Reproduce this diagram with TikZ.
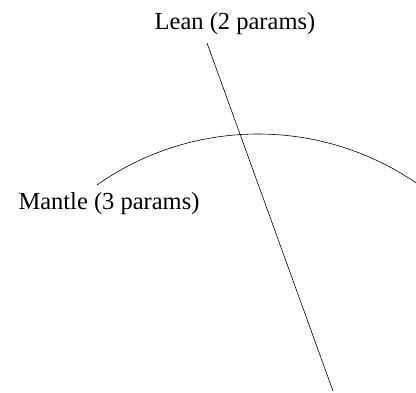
\documentclass[tikz,border=0pt]{standalone}
\usepackage{fontspec}
\setmainfont{Liberation Serif}
\usepackage{tikz}
\usetikzlibrary{positioning, calc}

\begin{document}
\begin{tikzpicture}[x=1pt, y=1pt, font=\fontsize{24.5}{29}\selectfont, line width=0.6pt]

	\useasboundingbox (0,0) rectangle (416,393);

	% Manteau (arc de cercle)
	\coordinate (centre) at (258,-21);
	\draw ($(centre)+(125.1:280)$) arc[start angle=125.1, end angle=55.2, radius=280];

	% Inclinaison
	\coordinate (haut) at (207,350);
	\coordinate (bas) at (333,2);
	\draw (haut) -- (bas);

	% Annotations
	\node[anchor=base] (lean) at (235,363) {Lean (2 params)};
	\node[anchor=base] (mantle) at (109,183) {Mantle (3 params)};

\end{tikzpicture}
\end{document}
